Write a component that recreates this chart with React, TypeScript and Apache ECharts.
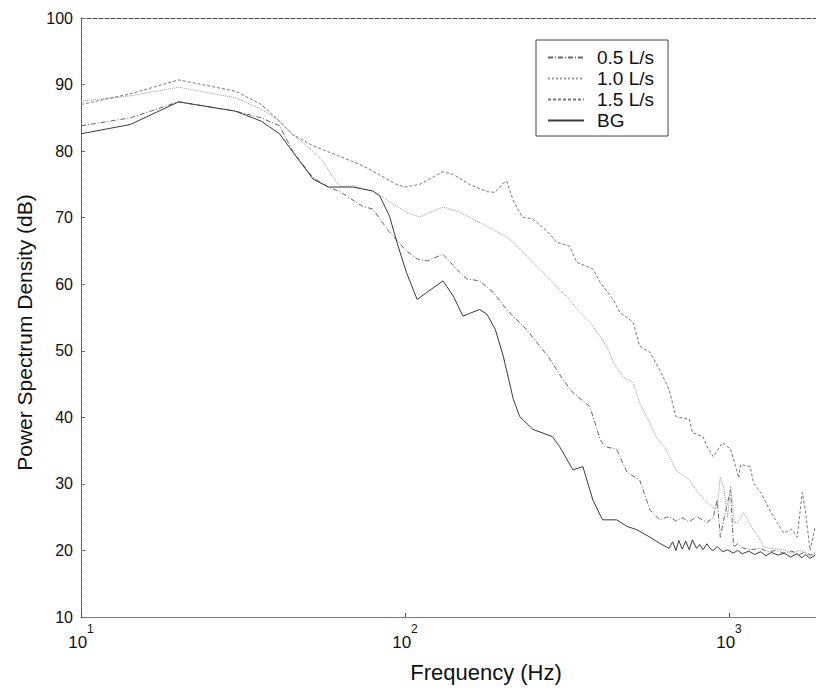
import React, { useEffect, useRef } from "react";
import * as echarts from "echarts";

const seriesNames = ["0.5 L/s", "1.0 L/s", "1.5 L/s", "BG"];
const yTicks = [10, 20, 30, 40, 50, 60, 70, 80, 90, 100];

// [frequency Hz, PSD dB]
const flow05: [number, number][] = [
  [10, 83.8], [14.2, 85.0], [20, 87.4], [30, 86.0], [36, 85.0], [41, 83.8], [45, 80.0], [52, 76.0],
  [58, 74.6], [63, 73.9], [74, 71.7], [79.5, 71.3], [89, 68.0], [101, 65.0], [109, 63.8], [117, 63.5],
  [131, 64.5], [144, 62.3], [155, 60.8], [170, 60.5], [187, 58.8], [206, 56.2], [237, 53.2], [278, 49.0],
  [307, 45.7], [330, 43.7], [372, 41.6], [400, 36.7], [414, 35.6], [450, 35.2], [485, 31.7], [530, 30.6],
  [570, 26.1], [610, 24.6], [653, 25.1], [686, 24.4], [717, 24.9], [754, 24.3], [794, 25.1], [855, 24.2],
  [894, 25.0], [920, 27.6], [940, 22.0], [962, 24.5], [1011, 29.1], [1033, 20.5], [1064, 21.0], [1100, 20.4],
  [1163, 20.1], [1250, 20.3], [1318, 19.8], [1400, 20.0], [1475, 19.6], [1560, 19.9], [1650, 19.4],
  [1720, 19.8], [1780, 19.3], [1844, 19.6],
];

const flow10: [number, number][] = [
  [10, 87.5], [14.2, 88.3], [20, 89.6], [30, 88.0], [36, 86.3], [41, 84.5], [45, 82.5], [52, 80.0],
  [56, 78.4], [60, 76.0], [63, 74.7], [69, 74.8], [79.5, 74.0], [89, 72.5], [101, 70.8], [111, 70.1],
  [131, 71.6], [148, 70.8], [174, 69.0], [206, 67.1], [222, 65.7], [248, 63.3], [285, 60.3], [300, 59.2],
  [322, 57.7], [346, 55.8], [372, 54.3], [400, 52.2], [424, 50.2], [439, 48.3], [470, 46.1], [506, 45.2],
  [530, 42.2], [557, 40.1], [596, 37.1], [638, 35.2], [686, 32.1], [754, 30.6], [800, 28.8], [855, 27.2],
  [894, 26.4], [920, 26.6], [940, 31.0], [962, 29.6], [990, 25.0], [1011, 29.6], [1040, 24.2], [1064, 24.2],
  [1108, 25.7], [1150, 24.3], [1189, 23.1], [1250, 21.6], [1280, 20.5], [1350, 20.3], [1475, 20.1],
  [1560, 19.6], [1650, 20.0], [1700, 19.8], [1780, 19.1], [1844, 19.5],
];

const flow15: [number, number][] = [
  [10, 87.0], [14.2, 88.6], [20, 90.7], [30, 89.0], [36, 87.0], [41, 84.5], [45, 82.5], [52, 80.8],
  [63, 79.2], [74, 77.8], [83, 76.5], [94, 75.0], [100, 74.6], [111, 75.0], [131, 76.9], [141, 76.5],
  [158, 75.0], [179, 73.9], [190, 73.8], [201, 75.2], [206, 75.5], [216, 72.5], [230, 70.1], [248, 69.8],
  [274, 68.0], [294, 66.3], [322, 65.7], [339, 63.3], [380, 62.3], [400, 60.3], [439, 57.7], [460, 55.8],
  [506, 54.3], [530, 50.7], [570, 49.8], [610, 47.2], [653, 44.2], [686, 40.1], [754, 39.7], [771, 37.7],
  [831, 37.1], [855, 35.6], [894, 34.1], [955, 36.2], [1011, 35.2], [1048, 32.6], [1071, 30.9], [1086, 32.9],
  [1163, 32.6], [1189, 30.2], [1253, 28.7], [1348, 25.7], [1475, 22.6], [1560, 23.2], [1623, 22.0],
  [1684, 28.7], [1720, 26.0], [1780, 20.0], [1844, 23.5],
];

const background: [number, number][] = [
  [10, 82.6], [14.2, 84.0], [20, 87.4], [30, 86.0], [36, 84.5], [41, 82.6], [45, 79.9], [52, 75.8],
  [58, 74.6], [63, 74.6], [69, 74.6], [79.5, 74.0], [83.5, 73.3], [89.6, 70.2], [94.4, 66.3], [101, 61.8],
  [109, 57.7], [117, 58.8], [131, 60.5], [141, 58.2], [151, 55.2], [158, 55.6], [170, 56.2], [179, 55.5],
  [190, 53.2], [201, 49.2], [216, 42.7], [226, 40.1], [248, 38.2], [285, 37.1], [300, 35.6], [330, 32.1],
  [354, 32.6], [380, 27.6], [407, 24.6], [450, 24.6], [485, 23.6], [520, 23.1], [570, 22.0], [610, 21.1],
  [653, 20.3], [670, 21.3], [686, 20.0], [700, 21.5], [717, 20.2], [735, 21.4], [754, 20.1], [771, 21.6],
  [794, 20.3], [812, 20.9], [831, 20.1], [855, 21.0], [874, 20.3], [894, 20.0], [920, 20.6], [955, 19.8],
  [990, 20.1], [1030, 19.6], [1064, 20.0], [1100, 19.5], [1150, 19.9], [1200, 19.4], [1253, 19.8],
  [1300, 19.2], [1350, 19.7], [1420, 19.3], [1480, 19.6], [1550, 19.0], [1620, 19.5], [1680, 18.9],
  [1720, 19.4], [1780, 18.8], [1844, 19.3],
];

const FONT = "'Liberation Sans', Arial, sans-serif";

export default function App() {
  const ref = useRef<HTMLDivElement>(null);
  useEffect(() => {
    if (!ref.current) return;
    document.body.style.overflow = "hidden";
    const chart = echarts.init(ref.current, null, { renderer: "svg" });
    const lineStyles = [
      { color: "#666", type: [5, 2, 1, 2] },
      { color: "#999", type: "dotted" },
      { color: "#777", type: [3, 2] },
      { color: "#3a3a3a", type: "solid" },
    ];
    const datasets = [flow05, flow10, flow15, background];
    const xMin = 10;
    const xMax = Math.pow(10, 3.5);
    chart.setOption({
      animation: false,
      backgroundColor: "#fff",
      textStyle: { fontFamily: FONT },
      grid: { left: 81, top: 18, bottom: 76, right: 9, containLabel: false },
      legend: {
        data: seriesNames,
        orient: "vertical",
        left: 536,
        top: 40,
        padding: [8, 14, 6, 11],
        itemGap: 2,
        itemWidth: 36,
        itemHeight: 1,
        borderColor: "#444",
        borderWidth: 1,
        backgroundColor: "#fff",
        itemStyle: { borderWidth: 0 },
        textStyle: { fontFamily: FONT, fontSize: 19, color: "#111", padding: [0, 0, 0, 8] },
      },
      xAxis: [
        {
          type: "log",
          logBase: 10,
          min: xMin,
          max: xMax,
          name: "Frequency (Hz)",
          nameLocation: "middle",
          nameGap: 44,
          nameTextStyle: { fontFamily: FONT, fontSize: 22, color: "#111" },
          axisLine: { show: true, lineStyle: { color: "#777", width: 1 } },
          axisTick: { show: true, inside: true, length: 4, lineStyle: { color: "#555" } },
          splitLine: { show: false },
          axisLabel: {
            margin: 6,
            color: "#111",
            formatter: (v: number) => {
              const e = Math.log10(v);
              if (Math.abs(e - Math.round(e)) > 1e-6) return "";
              return `{b|10}{sup|${Math.round(e)}}`;
            },
            rich: {
              b: { fontFamily: FONT, fontSize: 17, color: "#111", lineHeight: 28, verticalAlign: "bottom" },
              sup: { fontFamily: FONT, fontSize: 12, color: "#111", lineHeight: 28, verticalAlign: "top" },
            },
          },
        },
        {
          type: "log",
          logBase: 10,
          min: xMin,
          max: xMax,
          position: "top",
          axisLine: { show: true, lineStyle: { color: "#444", width: 1, type: [4, 2] } },
          axisTick: { show: false },
          axisLabel: { show: false },
          splitLine: { show: false },
        },
      ],
      yAxis: {
        type: "value",
        min: 10,
        max: 100,
        interval: 10,
        name: "Power Spectrum Density (dB)",
        nameLocation: "middle",
        nameGap: 46,
        nameTextStyle: { fontFamily: FONT, fontSize: 21, color: "#111", padding: [0, 30, 0, 0] },
        axisLine: { show: true, lineStyle: { color: "#444", width: 1, type: "dotted" } },
        axisTick: { show: true, inside: true, length: 4, lineStyle: { color: "#666" } },
        splitLine: { show: false },
        axisLabel: {
          margin: 8,
          color: "#111",
          fontFamily: FONT,
          fontSize: 16,
          formatter: (v: number) => (yTicks.includes(v) ? String(v) : ""),
        },
      },
      series: seriesNames.map((name, i) => ({
        name,
        type: "line",
        xAxisIndex: 0,
        data: datasets[i],
        symbol: "none",
        showSymbol: false,
        smooth: false,
        lineStyle: { width: 1, color: lineStyles[i].color, type: lineStyles[i].type },
        itemStyle: { color: lineStyles[i].color },
        z: 2 + i,
      })),
    });
    return () => chart.dispose();
  }, []);
  return (
    <div
      ref={ref}
      style={{ position: "fixed", left: 0, top: 0, width: 900, height: 693, overflow: "hidden" }}
    />
  );
}
